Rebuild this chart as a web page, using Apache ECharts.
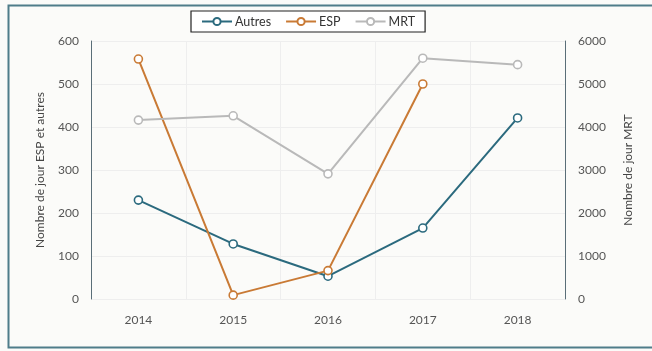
<!DOCTYPE html>
<html>
<head>
<meta charset="utf-8">
<script src="https://cdn.jsdelivr.net/npm/echarts@6/dist/echarts.min.js"></script>
<style>
  html, body { margin: 0; padding: 0; background: #fbfbf9; }
  #chart { width: 652px; height: 351px; }
</style>
</head>
<body>
<div id="chart"></div>
<script>
// Years on the horizontal axis
const years = ['2014', '2015', '2016', '2017', '2018'];
// Left axis series (days)
const autres = [230, 128, 53, 165, 421];
const esp = [558, 9, 66, 500, null];
// Right axis series (days)
const mrt = [4160, 4260, 2910, 5600, 5450];

const FONT = 'Lato, "Open Sans", sans-serif';
const chart = echarts.init(document.getElementById('chart'));

function lineSeries(name, data, color, axisIndex) {
  return {
    name: name,
    type: 'line',
    yAxisIndex: axisIndex,
    data: data,
    symbol: 'circle',
    symbolSize: 8,
    connectNulls: false,
    lineStyle: { color: color, width: 2 },
    itemStyle: { color: '#ffffff', borderColor: color, borderWidth: 1.6 },
    emphasis: { disabled: true },
    z: 3
  };
}

chart.setOption({
  backgroundColor: '#fbfbf9',
  animation: false,
  textStyle: { fontFamily: FONT },
  graphic: [{
    type: 'rect',
    shape: { x: 8.5, y: 5.5, width: 660, height: 342 },
    style: { fill: 'none', stroke: '#4f7d8a', lineWidth: 2 },
    silent: true
  }],
  legend: {
    top: 11,
    left: 191,
    width: 238,
    padding: [4, 10, 4, 10],
    itemGap: 14,
    itemWidth: 30,
    itemHeight: 9,
    borderColor: '#222',
    borderWidth: 1.2,
    backgroundColor: '#ffffff',
    textStyle: { fontFamily: FONT, fontSize: 12.5, color: '#333', padding: [0, 0, 0, -2] },
    data: ['Autres', 'ESP', 'MRT']
  },
  grid: { left: 91, right: 87, top: 41, bottom: 52 },
  xAxis: {
    type: 'category',
    data: years,
    boundaryGap: true,
    axisLine: { show: false },
    axisTick: { show: false },
    axisLabel: { color: '#555', fontSize: 12, margin: 15, fontFamily: FONT },
    splitLine: { show: true, lineStyle: { color: '#eeeeee', width: 1 } }
  },
  yAxis: [{
    type: 'value',
    min: 0, max: 600, interval: 100,
    name: 'Nombre de jour ESP et autres',
    nameLocation: 'middle',
    nameGap: 45,
    nameTextStyle: { color: '#444', fontSize: 12, fontFamily: FONT },
    axisLine: { show: true, lineStyle: { color: '#5a6e78', width: 1 } },
    axisTick: { show: false },
    axisLabel: { color: '#555', fontSize: 12, margin: 12, fontFamily: FONT },
    splitLine: { show: true, lineStyle: { color: '#eeeeee', width: 1 } }
  }, {
    type: 'value',
    min: 0, max: 6000, interval: 1000,
    name: 'Nombre de jour MRT',
    nameLocation: 'middle',
    nameGap: 57,
    nameTextStyle: { color: '#444', fontSize: 12, fontFamily: FONT },
    position: 'right',
    axisLine: { show: true, lineStyle: { color: '#5a6e78', width: 1 } },
    axisTick: { show: false },
    axisLabel: {
      color: '#555', fontSize: 12, margin: 13, fontFamily: FONT,
      formatter: function (v) { return String(v); }
    },
    splitLine: { show: false }
  }],
  series: [
    lineSeries('Autres', autres, '#2b6a7e', 0),
    lineSeries('ESP', esp, '#c97a35', 0),
    lineSeries('MRT', mrt, '#b9b9b9', 1)
  ]
});
</script>
</body>
</html>
